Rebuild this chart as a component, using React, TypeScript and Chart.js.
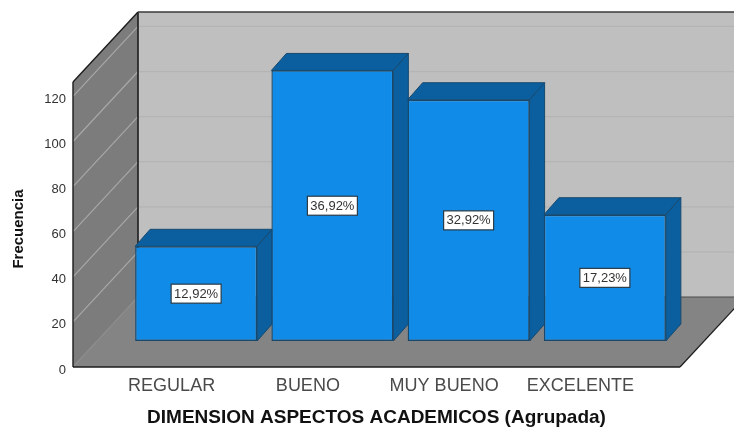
import React, { useEffect, useRef } from "react";
import { Chart, registerables } from "chart.js";

Chart.register(...registerables);

const categories = ["REGULAR", "BUENO", "MUY BUENO", "EXCELENTE"];
const frequencies = [42, 120, 107, 56];
const percentLabels = ["12,92%", "36,92%", "32,92%", "17,23%"];
const yTicks = [0, 20, 40, 60, 80, 100, 120];
const yAxisTitle = "Frecuencia";
const xAxisTitle = "DIMENSION ASPECTOS ACADEMICOS (Agrupada)";

const AXIS_MAX = 126.4;
const FONT = "'Liberation Sans', Arial, sans-serif";

// Oblique projection of the room and of the boxes
const ROOM_DX = 65;
const ROOM_DY = -70;
const ROOM_SIDE_PAD = 31;
const BAR_SHIFT_X = 24;
const BAR_SHIFT_Y = -26;
const BAR_DEPTH_X = 15;
const BAR_DEPTH_Y = -17;

const WALL_BACK = "#bfbfbf";
const WALL_SIDE = "#7c7c7c";
const FLOOR = "#848484";
const BAR_FRONT = "#108ce8";
const BAR_SHADE = "#0b5f9e";
const BAR_EDGE = "#17496f";
const EDGE = "#1c1c1c";

function poly(ctx: CanvasRenderingContext2D, pts: number[][], fill: string | null, stroke?: string, width = 1) {
  ctx.beginPath();
  pts.forEach(([x, y], i) => (i ? ctx.lineTo(x, y) : ctx.moveTo(x, y)));
  ctx.closePath();
  if (fill) {
    ctx.fillStyle = fill;
    ctx.fill();
  }
  if (stroke) {
    ctx.strokeStyle = stroke;
    ctx.lineWidth = width;
    ctx.stroke();
  }
}

function line(ctx: CanvasRenderingContext2D, x0: number, y0: number, x1: number, y1: number, color: string, width = 1) {
  ctx.beginPath();
  ctx.moveTo(x0, y0);
  ctx.lineTo(x1, y1);
  ctx.strokeStyle = color;
  ctx.lineWidth = width;
  ctx.stroke();
}

// Back wall, side wall and floor, with gridlines taken from the value scale
const roomPlugin = {
  id: "room",
  beforeDatasetsDraw(chart: any) {
    const { ctx, chartArea, scales, width } = chart;
    const left = chartArea.left - ROOM_SIDE_PAD;
    const right = chartArea.right + ROOM_SIDE_PAD;
    const base = chartArea.bottom;
    const top = chartArea.top;
    const backX = left + ROOM_DX;
    const floorBack = base + ROOM_DY;
    const ceil = top + ROOM_DY;
    ctx.save();
    poly(ctx, [[backX, ceil], [width, ceil], [width, floorBack], [backX, floorBack]], WALL_BACK);
    poly(ctx, [[left, top], [backX, ceil], [backX, floorBack], [left, base]], WALL_SIDE);
    poly(ctx, [[left, base], [right, base], [right + ROOM_DX, floorBack], [backX, floorBack]], FLOOR);
    yTicks.forEach((v) => {
      const y = scales.y.getPixelForValue(v);
      if (v > 0) line(ctx, backX, y + ROOM_DY, width, y + ROOM_DY, "#b4b4b4", 1.2);
      line(ctx, left, y, backX, y + ROOM_DY, v > 0 ? "#a8a8a8" : "#8c8c8c", 1.2);
    });
    line(ctx, backX, floorBack, width, floorBack, "#4a4a4a", 1);
    line(ctx, left, top, left, base, EDGE, 1.4);
    line(ctx, left, top, backX, ceil, EDGE, 1.4);
    line(ctx, backX, ceil, backX, floorBack, EDGE, 1.6);
    line(ctx, backX, ceil, width, ceil, "#3a3a3a", 1.6);
    line(ctx, left, base, right, base, EDGE, 1.4);
    line(ctx, right, base, right + ROOM_DX, floorBack, EDGE, 1.2);
    ctx.restore();
  },
  // Boxes stand further back on the floor; their top and side faces go under the fronts
  beforeDatasetDraw(chart: any) {
    const { ctx } = chart;
    const bars = chart.getDatasetMeta(0).data;
    ctx.save();
    ctx.translate(BAR_SHIFT_X, BAR_SHIFT_Y);
    bars.forEach((bar: any) => {
      const { x, y, base, width } = bar.getProps(["x", "y", "base", "width"], true);
      const l = x - width / 2;
      const r = x + width / 2;
      poly(ctx, [[l, y], [l + BAR_DEPTH_X, y + BAR_DEPTH_Y], [r + BAR_DEPTH_X, y + BAR_DEPTH_Y], [r, y]], BAR_SHADE, BAR_EDGE);
      poly(ctx, [[r, y], [r + BAR_DEPTH_X, y + BAR_DEPTH_Y], [r + BAR_DEPTH_X, base + BAR_DEPTH_Y], [r, base]], BAR_SHADE, BAR_EDGE);
    });
  },
  afterDatasetDraw(chart: any) {
    chart.ctx.restore();
  },
  // Percentage tags in the middle of each box front, and the rotated value-axis title
  afterDatasetsDraw(chart: any) {
    const { ctx } = chart;
    const bars = chart.getDatasetMeta(0).data;
    ctx.save();
    ctx.font = `13px ${FONT}`;
    ctx.textAlign = "center";
    ctx.textBaseline = "middle";
    bars.forEach((bar: any, i: number) => {
      const { x, y, base } = bar.getProps(["x", "y", "base"], true);
      const cx = x + BAR_SHIFT_X;
      const cy = (y + base) / 2 + BAR_SHIFT_Y;
      ctx.fillStyle = "#ffffff";
      ctx.strokeStyle = "#2a3a46";
      ctx.lineWidth = 1.2;
      ctx.fillRect(cx - 25, cy - 9.5, 50, 19);
      ctx.strokeRect(cx - 25, cy - 9.5, 50, 19);
      ctx.fillStyle = "#333333";
      ctx.fillText(percentLabels[i], cx, cy + 0.5);
    });
    ctx.translate(18.5, 229);
    ctx.rotate(-Math.PI / 2);
    ctx.font = `bold 15px ${FONT}`;
    ctx.fillStyle = "#111111";
    ctx.fillText(yAxisTitle, 0, 0);
    ctx.restore();
  },
};

export default function App() {
  const canvasRef = useRef<HTMLCanvasElement>(null);

  useEffect(() => {
    const chart = new Chart(canvasRef.current!, {
      type: "bar",
      data: {
        labels: categories,
        datasets: [
          {
            data: frequencies,
            backgroundColor: BAR_FRONT,
            borderColor: BAR_EDGE,
            borderWidth: 1.4,
            borderSkipped: false,
            barPercentage: 0.895,
            categoryPercentage: 1,
            clip: false,
          } as any,
        ],
      },
      plugins: [roomPlugin],
      options: {
        animation: false,
        responsive: false,
        maintainAspectRatio: false,
        layout: { padding: { top: 82, right: 85, bottom: 0, left: 0 } },
        plugins: { legend: { display: false }, tooltip: { enabled: false } },
        scales: {
          x: {
            grid: { display: false },
            border: { display: false },
            afterFit: (scale: any) => {
              scale.height = 60;
            },
            ticks: {
              autoSkip: false,
              maxRotation: 0,
              padding: 0,
              labelOffset: -0.5,
              color: "#4a4a4a",
              font: { family: FONT, size: 18 },
            },
            title: {
              display: true,
              text: xAxisTitle,
              color: "#111111",
              font: { family: FONT, size: 19, weight: "bold" },
              padding: { top: 0, bottom: -2 },
            },
          },
          y: {
            min: 0,
            max: AXIS_MAX,
            grid: { display: false },
            border: { display: false },
            afterFit: (scale: any) => {
              scale.width = 104;
            },
            ticks: {
              stepSize: 20,
              includeBounds: false,
              padding: 30,
              labelOffset: 3,
              color: "#333333",
              font: { family: FONT, size: 13 },
            },
            title: { display: false },
          },
        },
      },
    });
    return () => chart.destroy();
  }, []);

  return (
    <div style={{ position: "absolute", left: 0, top: 0, width: 734, height: 427, background: "#ffffff", overflow: "hidden" }}>
      <canvas ref={canvasRef} width={734} height={427} style={{ display: "block" }} />
    </div>
  );
}
